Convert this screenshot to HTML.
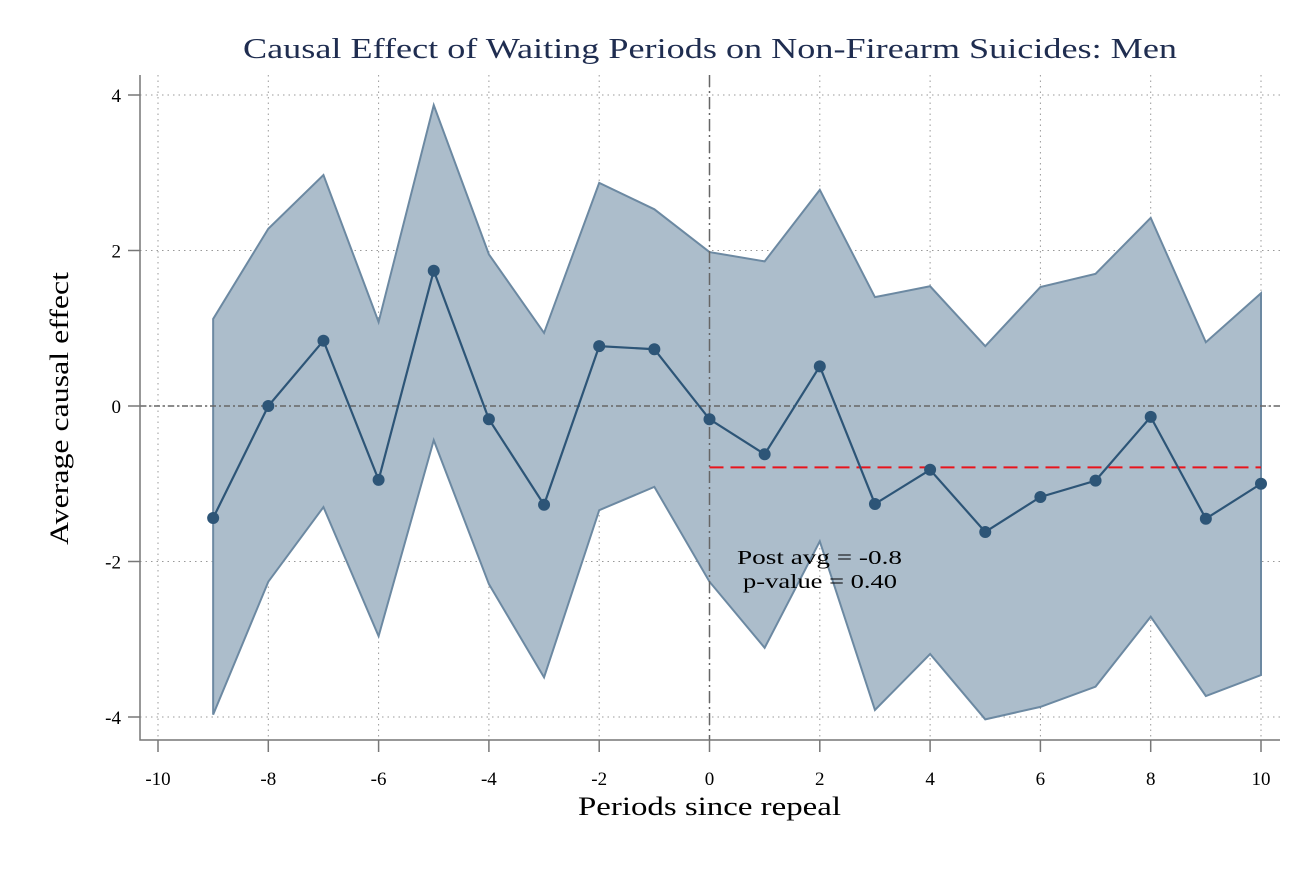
<!DOCTYPE html>
<html><head><meta charset="utf-8"><style>
body{margin:0;background:#fff}
svg text{font-family:"Liberation Serif",serif}
</style></head><body>
<svg id="c" width="1312" height="874"></svg>
<script>
const periods=[-9,-8,-7,-6,-5,-4,-3,-2,-1,0,1,2,3,4,5,6,7,8,9,10];
const estimate=[-1.44,0,0.84,-0.95,1.74,-0.17,-1.27,0.77,0.73,-0.17,-0.62,0.51,-1.26,-0.82,-1.62,-1.17,-0.96,-0.14,-1.45,-1.00];
const upper=[1.12,2.28,2.97,1.08,3.87,1.95,0.94,2.87,2.53,1.98,1.86,2.78,1.40,1.54,0.77,1.53,1.70,2.42,0.82,1.45];
const lower=[-3.97,-2.26,-1.30,-2.96,-0.44,-2.29,-3.49,-1.34,-1.04,-2.26,-3.11,-1.74,-3.91,-3.19,-4.03,-3.87,-3.61,-2.71,-3.73,-3.46];
const xTicks=[-10,-8,-6,-4,-2,0,2,4,6,8,10];
const yTicks=[-4,-2,0,2,4];
const postAvg=-0.79;
const NS="http://www.w3.org/2000/svg";
const svg=document.getElementById('c');
const X=v=>709.5+v*55.15, Y=v=>406-v*77.75;
function el(t,a,txt){const e=document.createElementNS(NS,t);for(const k in a)e.setAttribute(k,a[k]);if(txt!==undefined)e.textContent=txt;svg.appendChild(e);return e;}
xTicks.forEach(v=>{const e=el('line',{x1:X(v),x2:X(v),y1:75,y2:740,stroke:'#999','stroke-dasharray':'1.5,4'});

});
yTicks.forEach(v=>{const e=el('line',{x1:140,x2:1280,y1:Y(v),y2:Y(v),stroke:'#999','stroke-dasharray':'1.5,4'});

});
let pts=periods.map((p,i)=>X(p)+','+Y(upper[i])).concat(periods.slice().reverse().map((p,j)=>{const i=periods.length-1-j;return X(p)+','+Y(lower[i]);}));
const band=el('polygon',{points:pts.join(' '),fill:'#acbdcb',stroke:'#6c89a2','stroke-width':2});


const z=el('line',{x1:140,x2:1280,y1:Y(0),y2:Y(0),stroke:'#666','stroke-width':1.5,'stroke-dasharray':'6,3,2,3'});


const v0=el('line',{x1:X(0),x2:X(0),y1:75,y2:740,stroke:'#666','stroke-width':1.5,'stroke-dasharray':'12,4,2,4'});


const pa=el('line',{x1:X(0),x2:X(10),y1:Y(postAvg),y2:Y(postAvg),stroke:'#e8141c','stroke-width':2,'stroke-dasharray':'14,7'});


const ln=el('polyline',{points:periods.map((p,i)=>X(p)+','+Y(estimate[i])).join(' '),fill:'none',stroke:'#2d5577','stroke-width':2.2});


periods.forEach((p,i)=>{const c=el('circle',{cx:X(p),cy:Y(estimate[i]),r:6,fill:'#2d5577'});

});
const ax=el('path',{d:'M140,75 V740 H1280',fill:'none',stroke:'#777','stroke-width':1.5});


xTicks.forEach(v=>{el('line',{x1:X(v),x2:X(v),y1:740,y2:752,stroke:'#777','stroke-width':1.5});
const t=el('text',{x:X(v),y:785,'text-anchor':'middle','font-size':19},String(v));

});
yTicks.forEach(v=>{el('line',{x1:128,x2:140,y1:Y(v),y2:Y(v),stroke:'#777','stroke-width':1.5});
const t=el('text',{x:121,y:Y(v)+7,'text-anchor':'end','font-size':19},String(v));

});
</script>
<div style="position:absolute;left:0;top:0;width:1312px;height:874px;pointer-events:none">
<svg width="1312" height="874">
<text x="243" y="58" textLength="934" lengthAdjust="spacingAndGlyphs" font-size="29" fill="#1f2d50">Causal Effect of Waiting Periods on Non-Firearm Suicides: Men</text>
<text x="578" y="815" textLength="263" lengthAdjust="spacingAndGlyphs" font-size="26">Periods since repeal</text>
<text transform="translate(68,545) rotate(-90)" textLength="273" lengthAdjust="spacingAndGlyphs" font-size="26">Average causal effect</text>
<text x="737" y="564" textLength="165" lengthAdjust="spacingAndGlyphs" font-size="20">Post avg = -0.8</text>
<text x="743" y="588" textLength="154" lengthAdjust="spacingAndGlyphs" font-size="20">p-value = 0.40</text>
</svg></div>
</body></html>
